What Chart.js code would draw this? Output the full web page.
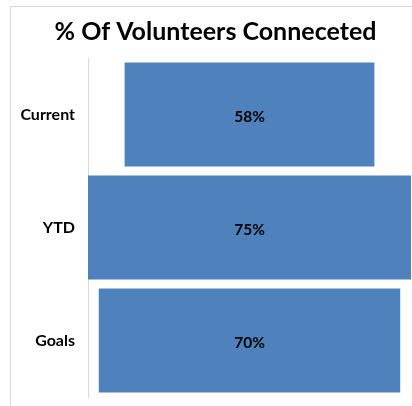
<!DOCTYPE html>
<html>
<head>
<meta charset="utf-8">
<script src="https://cdn.jsdelivr.net/npm/chart.js@4.4.0/dist/chart.umd.min.js"></script>
<style>
    body { margin: 0; background: #fff; }
    #wrap { width: 412px; height: 406px; }
</style>
</head>
<body>
<div id="wrap"><canvas id="myChart" width="412" height="406"></canvas></div>
<script>
var categories = ['Current', 'YTD', 'Goals'];
var values = [58, 75, 70];

// bars are centred, so each one spans -v/2 .. v/2
var ranges = values.map(function (v) { return [-v / 2, v / 2]; });
var half = Math.max.apply(null, values) / 2;

var frame = {
    id: 'frame',
    beforeDraw: function (chart) {
        var c = chart.ctx;
        c.save();
        c.fillStyle = '#ffffff';
        c.fillRect(0, 0, chart.width, chart.height);
        c.strokeStyle = '#d9d9d9';
        c.lineWidth = 1;
        c.strokeRect(10.5, 6.5, 600, 600);
        c.restore();
    }
};

var barLabels = {
    id: 'barLabels',
    afterDatasetsDraw: function (chart) {
        var c = chart.ctx;
        var meta = chart.getDatasetMeta(0);
        c.save();
        c.fillStyle = '#000000';
        c.font = 'bold 15.5px Lato';
        c.textAlign = 'center';
        c.textBaseline = 'middle';
        meta.data.forEach(function (bar, i) {
            var p = bar.getCenterPoint();
            c.fillText(values[i] + '%', p.x, p.y + 2);
        });
        c.restore();
    }
};

var ctx = document.getElementById('myChart').getContext('2d');
var myChart = new Chart(ctx, {
    type: 'bar',
    data: {
        labels: categories,
        datasets: [{
            label: '% Of Volunteers Conneceted',
            data: ranges,
            backgroundColor: '#4f81bd',
            borderWidth: 0,
            borderSkipped: false,
            barPercentage: 0.92,
            categoryPercentage: 1.0
        }]
    },
    options: {
        indexAxis: 'y',
        responsive: false,
        animation: false,
        layout: {
            padding: {left: 20, right: 1, top: 0, bottom: 9}
        },
        scales: {
            x: {
                display: false,
                min: -half,
                max: half
            },
            y: {
                grid: {display: false},
                border: {display: true, color: '#d9d9d9'},
                afterFit: function (scale) {
                    scale.width = 68;
                    scale.paddingTop = 0;
                    scale.paddingBottom = 0;
                },
                ticks: {
                    color: '#000000',
                    padding: 5,
                    font: {family: 'Lato', size: 16, weight: 'bold'}
                }
            }
        },
        plugins: {
            legend: {display: false},
            tooltip: {enabled: false},
            title: {
                display: true,
                text: '% Of Volunteers Conneceted',
                color: '#000000',
                font: {family: 'Lato', size: 25, weight: 'bold'},
                padding: {top: 17, bottom: 11}
            }
        }
    },
    plugins: [frame, barLabels]
});
</script>
</body>
</html>
